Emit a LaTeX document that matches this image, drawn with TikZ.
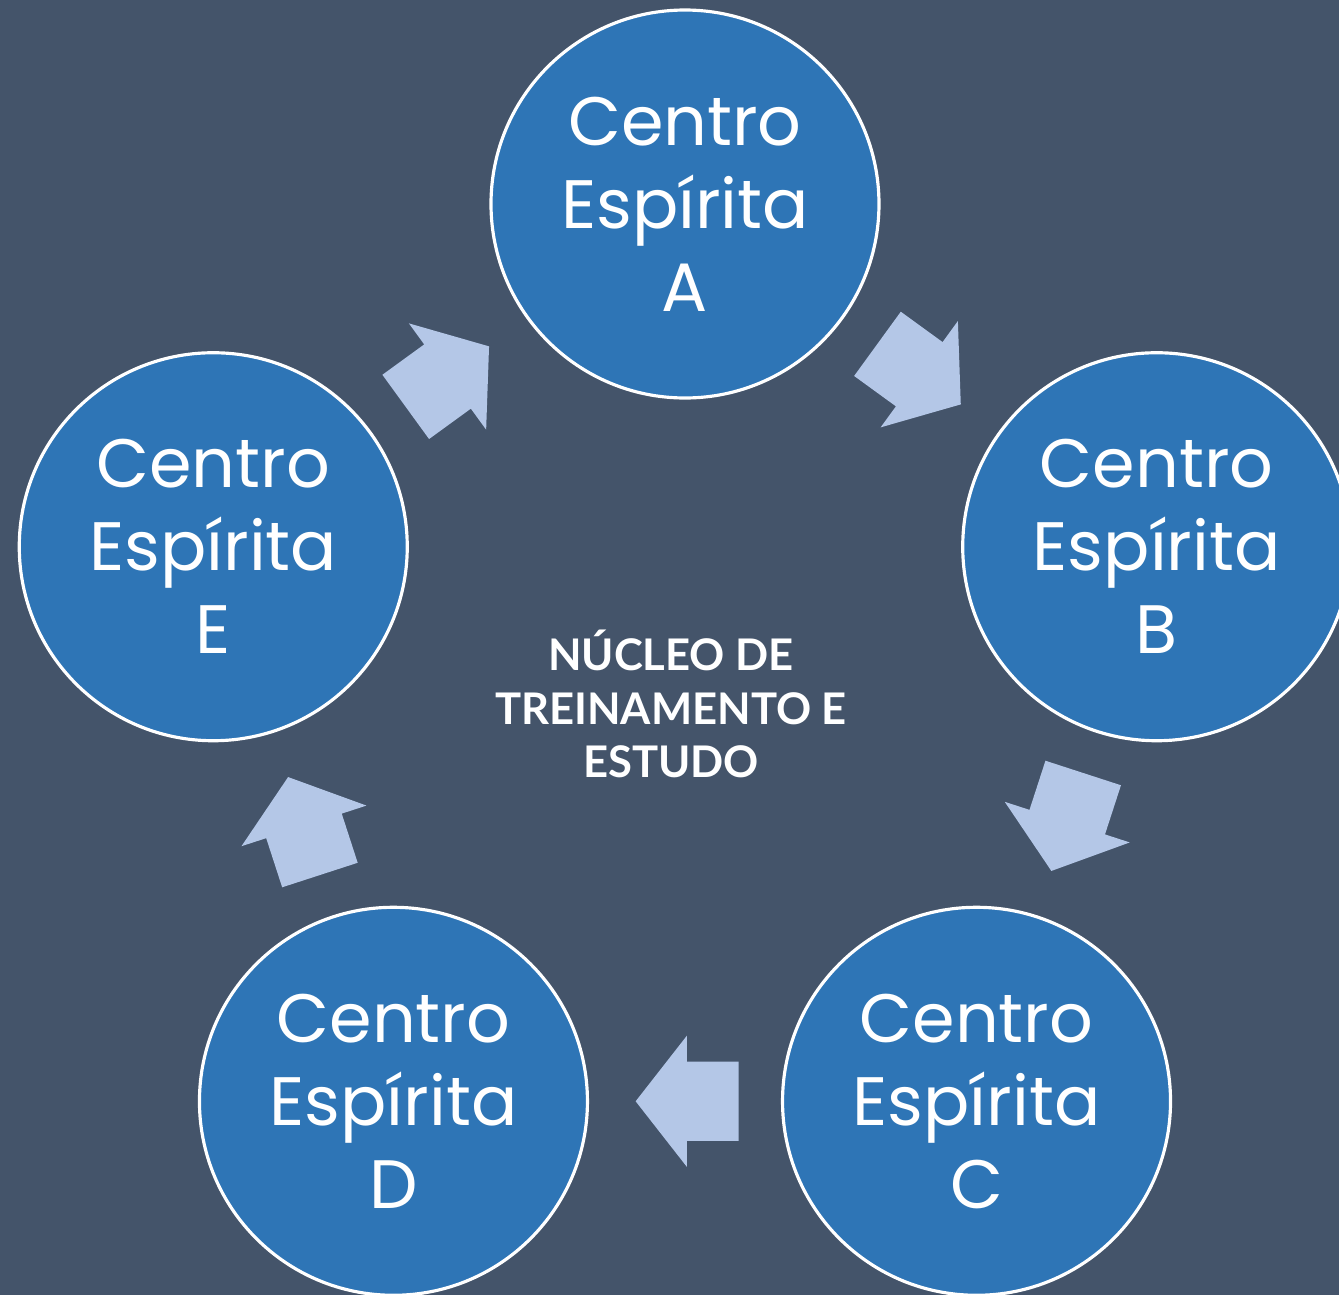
\documentclass[tikz,border=0pt]{standalone}
\usepackage{fontspec}
\setmainfont{Poppins}
\newfontfamily\hubfont{Lato}
\usetikzlibrary{shapes.arrows}
\usepackage{xcolor}
\definecolor{slateBg}{RGB}{68, 84, 106}
\definecolor{centroBlue}{RGB}{46, 117, 182}
\definecolor{arrowBlue}{RGB}{180, 199, 231}

\begin{document}
\begin{tikzpicture}
    [
		centro/.style={
			draw=white, circle, line width=0.9pt, fill=centroBlue,
			minimum size=3.88cm, inner sep=0pt, align=center, text=white,
			font=\fontsize{19.5}{23.6}\selectfont
		},
		flow/.style={
			single arrow, fill=arrowBlue, sloped, allow upside down, pos=0.408,
			inner xsep=0pt, inner ysep=0.39cm, minimum height=1.03cm,
			single arrow head extend=0.26cm, single arrow tip angle=104
		}
	]

% Background
\useasboundingbox (-6.85, -5.95) rectangle (6.54, 7.00);
\clip (-6.85, -5.95) rectangle (6.54, 7.00);
\fill [slateBg] (-6.85, -5.95) rectangle (6.54, 7.00);

% Nodes
\node (A) [centro] at (90:4.96) {Centro\\Espírita\\A};
\node (B) [centro] at (18:4.96) {Centro\\Espírita\\B};
\node (C) [centro] at (-54:4.96) {Centro\\Espírita\\C};
\node (D) [centro] at (-126:4.96) {Centro\\Espírita\\D};
\node (E) [centro] at (162:4.96) {Centro\\Espírita\\E};
\node (hub) [text=white, align=center, font=\hubfont\bfseries\fontsize{12.4}{15.2}\selectfont]
	at (-0.14, -0.04) {NÚCLEO DE\\TREINAMENTO E\\ESTUDO};

% Arrows
\path (A) -- node [flow] {} (B);
\path (B) -- node [flow] {} (C);
\path (C) -- node [flow] {} (D);
\path (D) -- node [flow] {} (E);
\path (E) -- node [flow] {} (A);

\end{tikzpicture}
\end{document}
